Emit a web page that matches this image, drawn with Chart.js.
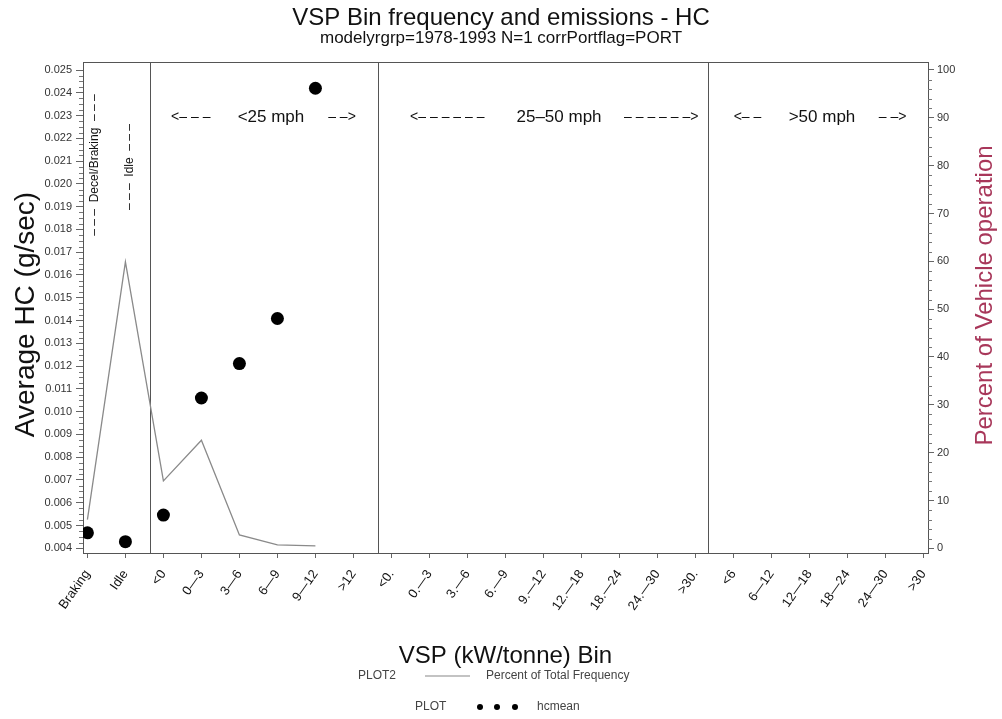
<!DOCTYPE html>
<html>
<head>
<meta charset="utf-8">
<title>VSP Bin frequency and emissions - HC</title>
<script src="https://cdn.jsdelivr.net/npm/chart.js@4.4.1/dist/chart.umd.min.js"></script>
<style>
  html, body { margin: 0; padding: 0; background: #fff; }
  #wrap { width: 1002px; height: 719px; }
</style>
</head>
<body>
<div id="wrap"><canvas id="vspChart" width="1002" height="719"></canvas></div>
<script>
// VSP bins: decel/idle, then the <25, 25-50 and >50 mph groups
const binLabels = ['Braking', 'Idle',
  '<0', '0—3', '3—6', '6—9', '9—12', '>12',
  '<0.', '0.—3', '3.—6', '6.—9', '9.—12', '12.—18', '18.—24', '24.—30', '>30.',
  '<6', '6—12', '12—18', '18—24', '24—30', '>30'];

// hcmean in g/sec (left axis), one value per bin that has data
const hcMean = [0.00468, 0.00429, 0.00546, 0.0106, 0.01211, 0.01409, 0.0242];

// percent of total frequency (right axis)
const pctFreq = [6.0, 59.9, 14.1, 22.6, 2.8, 0.7, 0.5];

// where one speed group stops and the next starts, in bin units
const groupBreaks = [1.66, 7.64, 16.34];

const FONT = "'Liberation Sans', Arial, Helvetica, sans-serif";
Chart.defaults.font.family = FONT;
Chart.defaults.color = '#222';

// vertical group separators + box around the plot
const groupFrame = {
    id: 'groupFrame',
    beforeDatasetsDraw(chart) {
        const { ctx, chartArea: a, scales: { x } } = chart;
        ctx.save();
        ctx.strokeStyle = '#555';
        ctx.lineWidth = 1;
        ctx.beginPath();
        groupBreaks.forEach(b => {
            const px = Math.round(x.getPixelForValue(b)) + 0.5;
            ctx.moveTo(px, a.top);
            ctx.lineTo(px, a.bottom);
        });
        ctx.stroke();
        ctx.strokeRect(Math.round(a.left) + 0.5, Math.round(a.top) + 0.5,
            Math.round(a.width), Math.round(a.height));
        ctx.restore();
    }
};

// small ticks between the labelled ones on both y axes
const minorTicks = {
    id: 'minorTicks',
    afterDraw(chart) {
        const { ctx, chartArea: a, scales: { y, y1 } } = chart;
        ctx.save();
        ctx.strokeStyle = '#777';
        ctx.lineWidth = 1;
        ctx.beginPath();
        for (let k = 16; k <= 100; k++) {   // quarter steps of 0.001
            if (k % 4 === 0) continue;
            const py = Math.round(y.getPixelForValue(k * 0.00025)) + 0.5;
            ctx.moveTo(a.left - 4, py);
            ctx.lineTo(a.left, py);
        }
        for (let v = 0; v <= 100; v += 2) {
            if (v % 10 === 0) continue;
            const py = Math.round(y1.getPixelForValue(v)) + 0.5;
            ctx.moveTo(a.right, py);
            ctx.lineTo(a.right + 4, py);
        }
        ctx.stroke();
        ctx.restore();
    }
};

function vText(ctx, str, x, y) {
    ctx.save();
    ctx.translate(x, y);
    ctx.rotate(-Math.PI / 2);
    ctx.textAlign = 'center';
    ctx.textBaseline = 'middle';
    ctx.fillText(str, 0, 0);
    ctx.restore();
}

// speed group captions, bin-region captions, y axis titles, legend
const notes = {
    id: 'notes',
    afterDraw(chart) {
        const { ctx, chartArea: a, scales: { x } } = chart;
        ctx.save();
        ctx.fillStyle = '#111';
        ctx.textAlign = 'center';
        ctx.textBaseline = 'middle';

        const rowY = a.top + 55;
        ctx.font = '14px ' + FONT;
        [[2.72, '<– – –'], [6.70, '– –>'],
         [9.47, '<– – – – – –'], [15.10, '– – – – – –>'],
         [17.37, '<– –'], [21.19, '– –>']].forEach(([b, s]) => {
            ctx.fillText(s, x.getPixelForValue(b), rowY);
        });
        ctx.font = '17px ' + FONT;
        [[4.83, '<25 mph'], [12.41, '25–50 mph'], [19.33, '>50 mph']].forEach(([b, s]) => {
            ctx.fillText(s, x.getPixelForValue(b), rowY);
        });

        ctx.font = '12px ' + FONT;
        vText(ctx, '– – –  Decel/Braking  – – –', x.getPixelForValue(0.19), a.top + 103);
        vText(ctx, '– – –  Idle  – – –', x.getPixelForValue(1.11), a.top + 105);

        // axis titles, both reading upwards
        ctx.font = '28px ' + FONT;
        vText(ctx, 'Average HC (g/sec)', 26, 314.5);
        ctx.fillStyle = '#a8375a';
        ctx.font = '24px ' + FONT;
        vText(ctx, 'Percent of Vehicle operation', 985, 295.5);

        // legend
        ctx.fillStyle = '#444';
        ctx.font = '12px ' + FONT;
        ctx.textAlign = 'left';
        const r1 = 676, r2 = 707;
        ctx.fillText('PLOT2', 358, r1);
        ctx.fillText('Percent of Total Frequency', 486, r1);
        ctx.fillText('PLOT', 415, r2);
        ctx.fillText('hcmean', 537, r2);
        ctx.strokeStyle = '#888';
        ctx.lineWidth = 1.2;
        ctx.beginPath();
        ctx.moveTo(425, r1);
        ctx.lineTo(470, r1);
        ctx.stroke();
        ctx.fillStyle = '#000';
        [480, 497, 515].forEach(cx => {
            ctx.beginPath();
            ctx.arc(cx, r2, 3, 0, Math.PI * 2);
            ctx.fill();
        });
        ctx.restore();
    }
};

const ctx = document.getElementById('vspChart').getContext('2d');

new Chart(ctx, {
    type: 'line',
    data: {
        datasets: [{
            label: 'hcmean',
            data: hcMean.map((v, i) => ({ x: i, y: v })),
            yAxisID: 'y',
            showLine: false,
            pointRadius: 6.5,
            pointBackgroundColor: '#000',
            pointBorderWidth: 0
        }, {
            label: 'Percent of Total Frequency',
            data: pctFreq.map((v, i) => ({ x: i, y: v })),
            yAxisID: 'y1',
            borderColor: '#8a8a8a',
            borderWidth: 1.3,
            pointRadius: 0,
            tension: 0
        }]
    },
    options: {
        responsive: false,
        devicePixelRatio: 1,
        animation: false,
        layout: { padding: { left: 0, right: 0, top: 0, bottom: 46 } },
        scales: {
            x: {
                type: 'linear',
                min: -0.116,
                max: 22.12,
                afterFit: s => { s.height = 120; },
                afterBuildTicks: s => { s.ticks = binLabels.map((_, i) => ({ value: i })); },
                grid: { drawOnChartArea: false, tickLength: 5, tickColor: '#666' },
                border: { color: '#555' },
                ticks: {
                    autoSkip: false,
                    minRotation: 55,
                    maxRotation: 55,
                    padding: 5,
                    color: '#111',
                    font: { size: 13, lineHeight: 2.3 },
                    callback: v => binLabels[v]
                },
                title: {
                    display: true,
                    text: 'VSP (kW/tonne) Bin',
                    color: '#111',
                    font: { size: 24, lineHeight: 1 },
                    padding: { top: 0, bottom: 5 }
                }
            },
            y: {
                position: 'left',
                min: 0.003794,
                max: 0.025352,
                afterFit: s => { s.width = 83; },
                grid: { drawOnChartArea: false, tickLength: 7, tickColor: '#666' },
                border: { color: '#555' },
                ticks: {
                    stepSize: 0.001,
                    includeBounds: false,
                    padding: 4,
                    color: '#333',
                    font: { size: 11 },
                    callback: v => v.toFixed(3)
                }
            },
            y1: {
                position: 'right',
                min: -0.98,
                max: 101.67,
                afterFit: s => { s.width = 74; },
                grid: { drawOnChartArea: false, tickLength: 6, tickColor: '#666' },
                border: { color: '#555' },
                ticks: {
                    stepSize: 10,
                    includeBounds: false,
                    padding: 3,
                    color: '#333',
                    font: { size: 11 }
                }
            }
        },
        plugins: {
            legend: { display: false },
            tooltip: { enabled: false },
            title: {
                display: true,
                text: 'VSP Bin frequency and emissions - HC',
                color: '#111',
                font: { size: 24, weight: 'normal', lineHeight: 0.9 },
                padding: { top: 8, bottom: 0 }
            },
            subtitle: {
                display: true,
                text: 'modelyrgrp=1978-1993 N=1 corrPortflag=PORT',
                color: '#111',
                font: { size: 17, lineHeight: 1 },
                padding: { top: 0, bottom: 15.4 }
            }
        }
    },
    plugins: [groupFrame, minorTicks, notes]
});
</script>
</body>
</html>
